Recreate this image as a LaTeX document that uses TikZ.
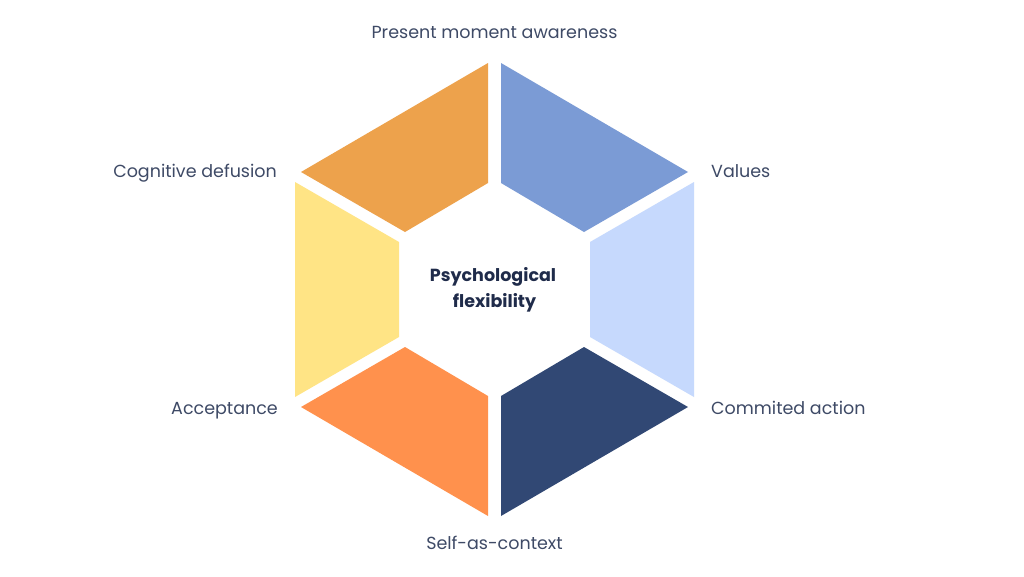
\documentclass[tikz,border=0pt]{standalone}
\usepackage{fontspec}
\setmainfont{Poppins}
\definecolor{cOrA}{HTML}{EDA24C}
\definecolor{cBlue}{HTML}{7B9BD5}
\definecolor{cLBlue}{HTML}{C6D9FD}
\definecolor{cNavy}{HTML}{314874}
\definecolor{cOrB}{HTML}{FF914D}
\definecolor{cYel}{HTML}{FFE485}
\definecolor{cTxt}{HTML}{3E4A66}
\definecolor{cTitle}{HTML}{1F2B4A}
\tikzset{
  lbl/.style={inner sep=0pt, text=cTxt, font=\fontsize{17.5}{20}\selectfont},
  ttl/.style={inner sep=0pt, text=cTitle, font=\fontsize{17.5}{20}\selectfont\bfseries},
}
\begin{document}
\begin{tikzpicture}[x=1pt,y=-1pt]
\useasboundingbox[fill=white] (0,0) rectangle (1024,576);
% segments
\fill[cOrA]   (301,172) -- (488,63) -- (488,183) -- (405,232) -- cycle;
\fill[cBlue]  (501,63) -- (688,172) -- (584,232) -- (501,183) -- cycle;
\fill[cLBlue] (694,182) -- (694,397) -- (590,337) -- (590,242) -- cycle;
\fill[cNavy]  (501,396) -- (584,347) -- (688,407) -- (501,516) -- cycle;
\fill[cOrB]   (488,396) -- (405,347) -- (301,407) -- (488,516) -- cycle;
\fill[cYel]   (295,182) -- (399,242) -- (399,337) -- (295,397) -- cycle;
% labels
\node[lbl, anchor=base] (pma) at (494.5,38.5) {Present moment awareness};
\node[lbl, anchor=base east] (cd) at (277,177.5) {Cognitive defusion};
\node[lbl, anchor=base west] (val) at (711,177.5) {Values};
\node[lbl, anchor=base east] (acc) at (278,414.5) {Acceptance};
\node[lbl, anchor=base west] (ca) at (711,414.5) {Commited action};
\node[lbl, anchor=base] (sac) at (494.5,549) {Self-as-context};
\node[ttl, anchor=base] (t1) at (493,281.5) {Psychological};
\node[ttl, anchor=base] (t2) at (494.5,307) {flexibility};
\end{tikzpicture}
\end{document}
